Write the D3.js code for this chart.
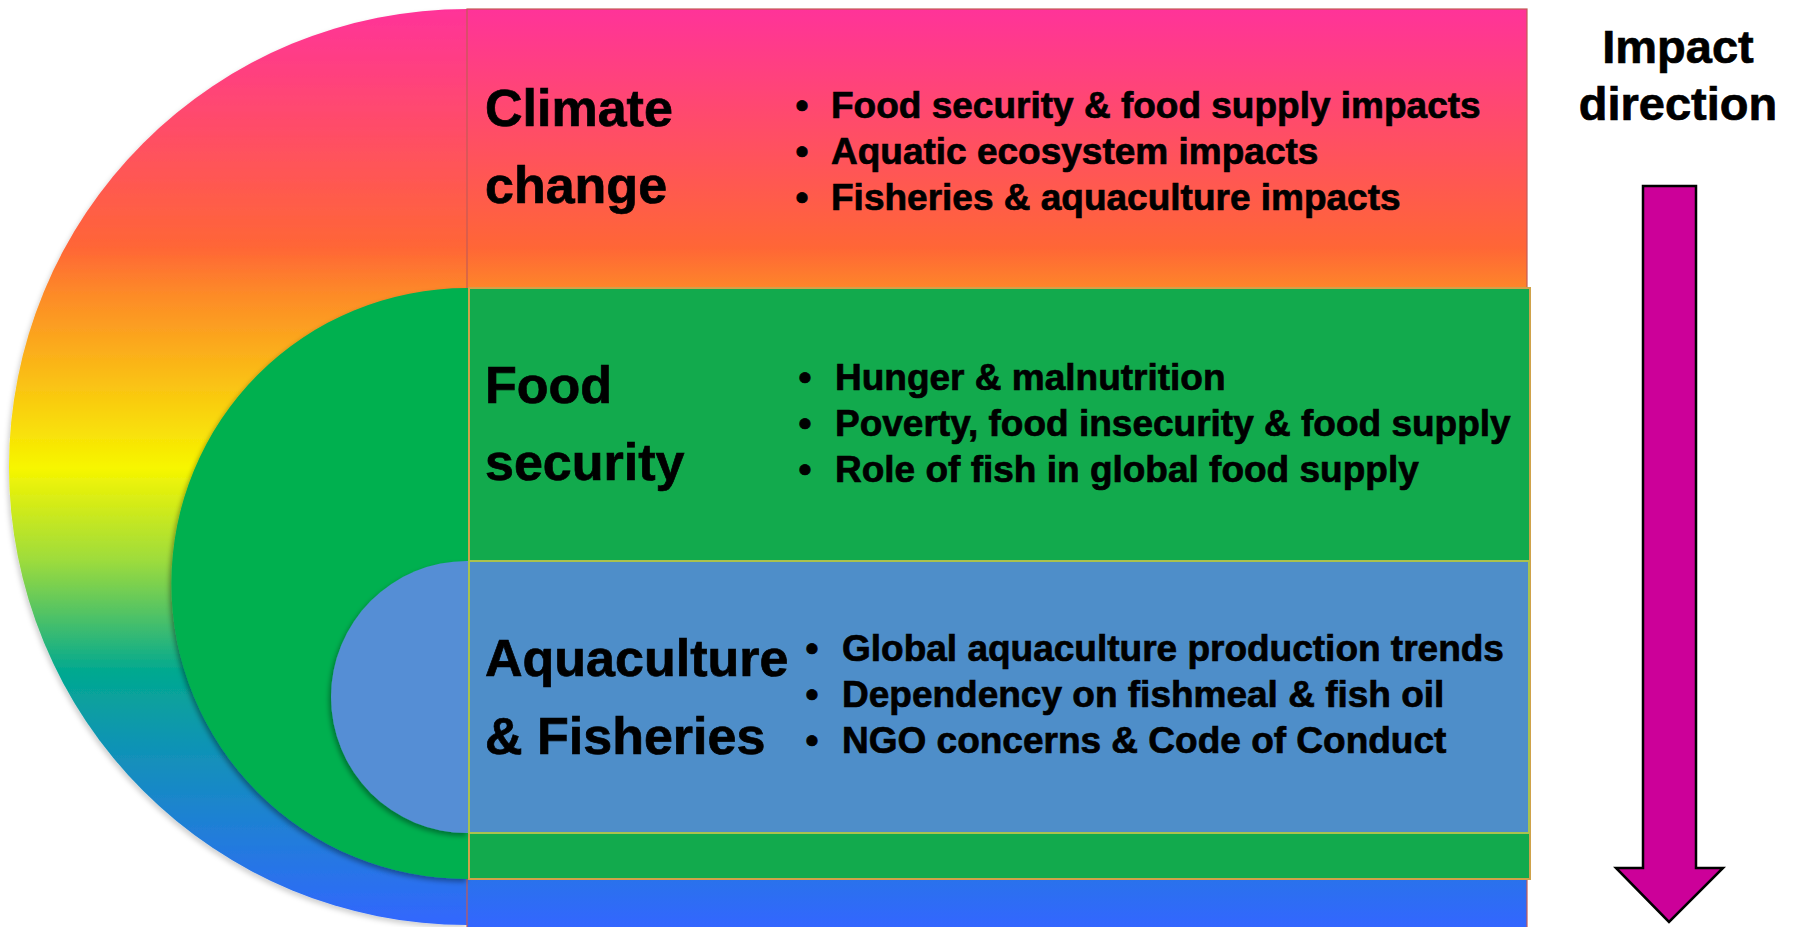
<!DOCTYPE html>
<html>
<head>
<meta charset="utf-8">
<script src="https://cdn.jsdelivr.net/npm/d3@7"></script>
<style>
  html, body { margin: 0; padding: 0; background: #ffffff; }
  svg { display: block; }
  text { font-family: "Liberation Sans", Arial, Helvetica, sans-serif; font-weight: bold; fill: #000; stroke: #000; stroke-width: 0.7px; }
</style>
</head>
<body>
<svg id="chart" width="1795" height="927"></svg>
<script>
// ---- content ----
const levels = ["Climate change", "Food security", "Aquaculture & Fisheries"];
const titleLines = [["Climate", "change"], ["Food", "security"], ["Aquaculture", "& Fisheries"]];
const bulletItems = [
  ["Food security & food supply impacts", "Aquatic ecosystem impacts", "Fisheries & aquaculture impacts"],
  ["Hunger & malnutrition", "Poverty, food insecurity & food supply", "Role of fish in global food supply"],
  ["Global aquaculture production trends", "Dependency on fishmeal & fish oil", "NGO concerns & Code of Conduct"]
];
const arrowLabel = ["Impact", "direction"];

// ---- layout (pixels) ----
const W = 1795, H = 927;
const x0 = 467;                         // flat edge of the half discs / left edge of boxes
const discs = [                          // outer → inner
  { top: 9,   bottom: 925 },
  { top: 288, bottom: 879 },
  { top: 561, bottom: 833 }
];
const boxRight = [1527, 1530, 1529];
const titleX = 485;
const titleBase = [[126, 203], [403, 480], [676, 754]];
const bulletX = [802, 805, 812];
const textX = [831, 835, 842];
const bulletBase0 = [118, 390, 661];
const bulletStep = 46;

const svg = d3.select("#chart");
const defs = svg.append("defs");

// rainbow gradient for the outermost level
const grad = defs.append("linearGradient")
  .attr("id", "rainbow").attr("gradientUnits", "userSpaceOnUse")
  .attr("x1", 0).attr("x2", 0).attr("y1", 9).attr("y2", 927);
[
  [0.00, "#ff3399"], [0.26, "#ff6636"], [0.31, "#fd8a28"], [0.50, "#f7f600"],
  [0.60, "#9edc3c"], [0.72, "#03a98f"], [0.80, "#0f94b4"], [1.00, "#3366ff"]
].forEach(([o, c]) => grad.append("stop").attr("offset", o).attr("stop-color", c));

const shadow = defs.append("filter").attr("id", "shadow")
  .attr("x", "-10%").attr("y", "-10%").attr("width", "130%").attr("height", "130%");
shadow.append("feDropShadow").attr("dx", -2).attr("dy", 3).attr("stdDeviation", 2.5)
  .attr("flood-color", "#000").attr("flood-opacity", 0.35);
const shadowLight = defs.append("filter").attr("id", "shadowLight")
  .attr("x", "-10%").attr("y", "-10%").attr("width", "130%").attr("height", "130%");
shadowLight.append("feDropShadow").attr("dx", -2).attr("dy", 3).attr("stdDeviation", 2.5)
  .attr("flood-color", "#000").attr("flood-opacity", 0.18);

const discFill = ["url(#rainbow)", "#00b050", "#558ed5"];
const boxFill  = ["url(#rainbow)", "#12aa4d", "#4e8ec9"];
const boxStroke = ["#c35a55", "#cfa24a", "#a9c24e"];

// half-disc path via d3.path
function halfDisc(d) {
  const r = (d.bottom - d.top) / 2, cy = d.top + r;
  const p = d3.path();
  p.moveTo(x0 + 1, d.top);
  p.lineTo(x0, d.top);
  p.arc(x0, cy, r, -Math.PI / 2, Math.PI / 2, true);
  p.lineTo(x0 + 1, d.bottom);
  p.closePath();
  return p.toString();
}

levels.forEach((name, i) => {
  const d = discs[i];
  const g = svg.append("g").attr("class", "level").attr("data-name", name);
  g.append("path").attr("d", halfDisc(d)).attr("fill", discFill[i])
    .attr("filter", i === 0 ? "url(#shadowLight)" : "url(#shadow)");
  const bottom = i === 0 ? H + 2 : d.bottom;
  g.append("rect")
    .attr("x", i === 0 ? x0 : x0 + 2).attr("y", d.top)
    .attr("width", boxRight[i] - (i === 0 ? x0 : x0 + 2))
    .attr("height", bottom - d.top)
    .attr("fill", boxFill[i]).attr("stroke", boxStroke[i])
    .attr("stroke-width", i === 0 ? 1.2 : 2);
});

// text for each level
levels.forEach((name, i) => {
  const g = svg.append("g");
  g.selectAll("text.title").data(titleLines[i]).join("text")
    .attr("class", "title")
    .attr("x", titleX).attr("y", (t, j) => titleBase[i][j])
    .style("font-size", "52px").text(t => t);
  const items = bulletItems[i];
  const gb = g.selectAll("g.item").data(items).join("g").attr("class", "item")
    .attr("transform", (t, j) => `translate(0,${bulletBase0[i] + j * bulletStep})`);
  gb.append("text").attr("x", bulletX[i]).attr("text-anchor", "middle")
    .style("font-size", "37px").text("\u2022");
  gb.append("text").attr("x", textX[i]).style("font-size", "37px").text(t => t);
});

// Impact direction label and arrow
svg.selectAll("text.arrowLabel").data(arrowLabel).join("text")
  .attr("class", "arrowLabel")
  .attr("x", 1678).attr("y", (t, j) => 63 + j * 57)
  .attr("text-anchor", "middle").style("font-size", "47px").text(t => t);

const arrow = d3.path();
arrow.moveTo(1643, 186); arrow.lineTo(1696, 186); arrow.lineTo(1696, 868);
arrow.lineTo(1723, 868); arrow.lineTo(1669, 922); arrow.lineTo(1616, 868);
arrow.lineTo(1643, 868); arrow.closePath();
svg.append("path").attr("d", arrow.toString())
  .attr("fill", "#cc0099").attr("stroke", "#000").attr("stroke-width", 2.5)
  .attr("stroke-linejoin", "miter");
</script>
</body>
</html>
